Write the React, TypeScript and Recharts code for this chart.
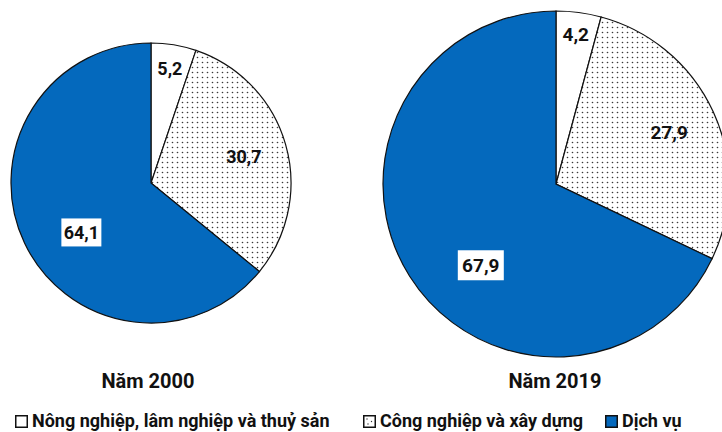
import { PieChart, Pie, Cell } from 'recharts';

const CATEGORIES = ['Nông nghiệp, lâm nghiệp và thuỷ sản', 'Công nghiệp và xây dựng', 'Dịch vụ'];
const YEARS = ['Năm 2000', 'Năm 2019'];
const VALUES_2000 = [5.2, 30.7, 64.1];
const VALUES_2019 = [4.2, 27.9, 67.9];

// label placement per slice: radius ratio + angle shift (deg)
const LABEL_TWEAKS_2000 = [{ r: 0.83, a: 0 }, { r: 0.69, a: 0 }, { r: 0.61, a: 10 }];
const LABEL_TWEAKS_2019 = [{ r: 0.87, a: 0 }, { r: 0.72, a: 0 }, { r: 0.64, a: 15 }];
const LEGEND_X = [15, 363, 605];

const BLUE = '#0469bd';
const FONT = 'Roboto, "Liberation Sans", sans-serif';
const FILLS = ['#ffffff', 'url(#dots)', BLUE];

const toData = (vals: number[]) => vals.map((v, i) => ({ name: CATEGORIES[i], value: v }));

const RAD = Math.PI / 180;

const makeLabel = (tweaks: { r: number; a: number }[], boxW: number, boxH: number, fs: number) => (props: any) => {
  const { cx, cy, midAngle, outerRadius, index, value } = props;
  const t = tweaks[index];
  const ang = (midAngle + t.a) * RAD;
  const x = cx + outerRadius * t.r * Math.cos(-ang);
  const y = cy + outerRadius * t.r * Math.sin(-ang);
  const txt = value.toFixed(1).replace('.', ',');
  const boxed = index === 2;
  return (
    <g key={`lbl-${index}`}>
      {boxed && <rect x={x - boxW / 2} y={y - boxH / 2} width={boxW} height={boxH} fill="#fff" />}
      <text x={x} y={y} textAnchor="middle" dominantBaseline="central"
        fontFamily={FONT} fontWeight={700} fontSize={fs} fill="#111">{txt}</text>
    </g>
  );
};

function LegendIcon({ i }: { i: number }) {
  return (
    <svg width={13} height={13} style={{ marginRight: 4 }}>
      <rect x={0.75} y={0.75} width={11.5} height={11.5} fill={i === 2 ? BLUE : '#fff'} stroke="#111" strokeWidth={1.5} />
      {i === 1 && <><circle cx={4} cy={4} r={0.7} fill="#333" /><circle cx={8.5} cy={6.5} r={0.7} fill="#333" /><circle cx={5} cy={9} r={0.7} fill="#333" /></>}
    </svg>
  );
}

export default function App() {
  return (
    <div style={{ position: 'fixed', left: 0, top: 0, width: 722, height: 432, background: '#fff', overflow: 'hidden' }}>
      <PieChart width={722} height={432} margin={{ top: 0, right: 0, bottom: 0, left: 0 }}>
        <defs>
          <pattern id="dots" width={5} height={5} patternUnits="userSpaceOnUse">
            <rect width={5} height={5} fill="#fff" />
            <circle cx={2.5} cy={2.5} r={0.8} fill="#3a3a3a" />
          </pattern>
        </defs>
        <Pie data={toData(VALUES_2000)} dataKey="value" nameKey="name" cx={151} cy={183} outerRadius={140}
          startAngle={90} endAngle={-270} stroke="#111" strokeWidth={1.2}
          label={makeLabel(LABEL_TWEAKS_2000, 40, 28, 18)} labelLine={false} isAnimationActive={false}>
          {VALUES_2000.map((_, i) => <Cell key={`a-${i}`} fill={FILLS[i]} />)}
        </Pie>
        <Pie data={toData(VALUES_2019)} dataKey="value" nameKey="name" cx={556} cy={184} outerRadius={173}
          startAngle={90} endAngle={-270} stroke="#111" strokeWidth={1.2}
          label={makeLabel(LABEL_TWEAKS_2019, 46, 30, 19)} labelLine={false} isAnimationActive={false}>
          {VALUES_2019.map((_, i) => <Cell key={`b-${i}`} fill={FILLS[i]} />)}
        </Pie>
        <text x={148} y={388} textAnchor="middle" fontFamily={FONT} fontWeight={700} fontSize={20} fill="#111">{YEARS[0]}</text>
        <text x={555} y={388} textAnchor="middle" fontFamily={FONT} fontWeight={700} fontSize={20} fill="#111">{YEARS[1]}</text>
      </PieChart>
      {CATEGORIES.map((c, i) => (
        <div key={c} style={{ position: 'absolute', left: LEGEND_X[i], top: 410, display: 'flex', alignItems: 'center', fontFamily: FONT, fontWeight: 700, fontSize: 18, lineHeight: '22px', color: '#111', whiteSpace: 'nowrap' }}>
          <LegendIcon i={i} />
          <span>{c}</span>
        </div>
      ))}
    </div>
  );
}
